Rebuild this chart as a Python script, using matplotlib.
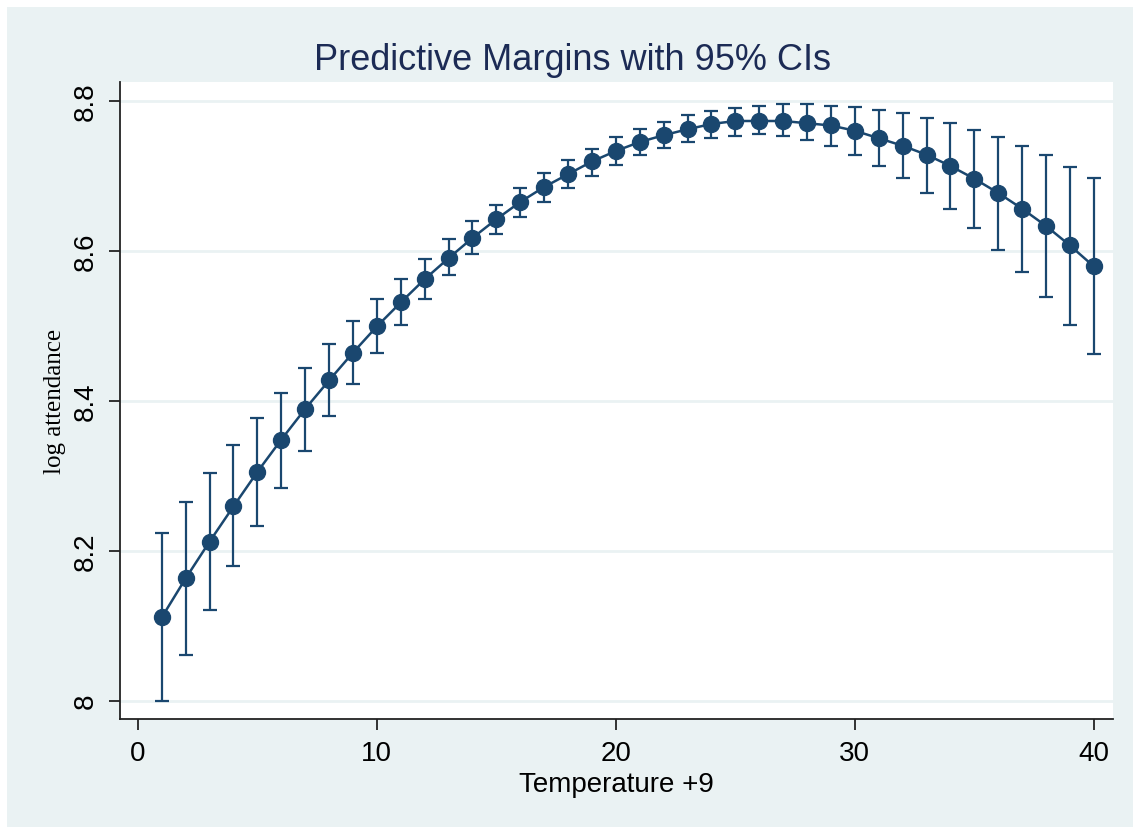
import matplotlib
matplotlib.use("Agg")
import matplotlib.pyplot as plt
from matplotlib.patches import Rectangle

# ---- data ----
temp = list(range(1, 41))
margin = [8.111, 8.163, 8.212, 8.259, 8.305, 8.348, 8.389, 8.427, 8.464, 8.499,
          8.531, 8.562, 8.590, 8.617, 8.642, 8.665, 8.685, 8.702, 8.719, 8.733,
          8.745, 8.754, 8.762, 8.769, 8.773, 8.773, 8.773, 8.770, 8.767, 8.760,
          8.750, 8.740, 8.728, 8.713, 8.696, 8.677, 8.656, 8.633, 8.607, 8.579]
ci_hi = [8.224, 8.265, 8.304, 8.341, 8.377, 8.410, 8.444, 8.476, 8.506, 8.535,
         8.562, 8.589, 8.615, 8.639, 8.661, 8.683, 8.703, 8.721, 8.736, 8.751,
         8.762, 8.772, 8.781, 8.786, 8.790, 8.793, 8.795, 8.796, 8.793, 8.791,
         8.788, 8.783, 8.777, 8.770, 8.761, 8.751, 8.739, 8.727, 8.712, 8.697]
ci_lo = [7.999, 8.061, 8.121, 8.179, 8.233, 8.284, 8.333, 8.379, 8.422, 8.463,
         8.501, 8.536, 8.567, 8.596, 8.622, 8.645, 8.665, 8.684, 8.700, 8.714,
         8.727, 8.737, 8.745, 8.750, 8.753, 8.755, 8.753, 8.747, 8.739, 8.728,
         8.713, 8.697, 8.677, 8.655, 8.630, 8.601, 8.571, 8.538, 8.501, 8.462]
xticks = [0, 10, 20, 30, 40]
yticks = [8.0, 8.2, 8.4, 8.6, 8.8]
ytick_labels = ["8", "8.2", "8.4", "8.6", "8.8"]

NAVY = "#1a476f"
BG = "#eaf2f3"
INK = "#222222"

W, H = 1133, 828
fig = plt.figure(figsize=(W / 100, H / 100), dpi=100, facecolor="white")
# stata-ish graph region
fig.patches.append(Rectangle((7 / W, 0), 1 - 7 / W, 1 - 8 / H,
                             transform=fig.transFigure, facecolor=BG,
                             edgecolor="none", zorder=-10))

ax = fig.add_axes([120 / W, 1 - 720 / H, (1113 - 120) / W, (720 - 83) / H])
ax.set_facecolor("white")

err = [[m - lo for m, lo in zip(margin, ci_lo)],
       [hi - m for m, hi in zip(margin, ci_hi)]]
ax.errorbar(temp, margin, yerr=err, fmt="-o", color=NAVY, ms=11.5, lw=1.8,
            elinewidth=1.6, capsize=5.3, capthick=1.6, zorder=3)

ax.set_xlim(-0.745, 40.8)
ax.set_ylim(7.9756, 8.825)
ax.set_xticks(xticks)
ax.set_yticks(yticks)
ax.set_yticklabels(ytick_labels)
ax.grid(axis="y", color=BG, lw=2)
ax.set_axisbelow(True)

for s in ["top", "right"]:
    ax.spines[s].set_visible(False)
for s in ["left", "bottom"]:
    ax.spines[s].set_color(INK)
    ax.spines[s].set_linewidth(1.3)

ax.tick_params(direction="out", length=8, width=1.3, color=INK,
               labelsize=20, labelcolor="black")
ax.tick_params(axis="x", pad=7)
ax.tick_params(axis="y", pad=7)
for lab in ax.get_xticklabels() + ax.get_yticklabels():
    lab.set_family("Liberation Sans")
for lab in ax.get_yticklabels():
    lab.set_rotation(90)
    lab.set_va("center")

ax.set_xlabel("Temperature +9", fontsize=20, family="Liberation Sans", labelpad=4)
ax.set_ylabel("log attendance", fontsize=18, family="Liberation Serif", labelpad=5)

fig.text(572 / W, 1 - 61 / H, "Predictive Margins with 95% CIs", fontsize=26,
         family="Liberation Sans", color="#1c2b55", ha="center", va="center")

fig.savefig("out.png", dpi=100, facecolor=fig.get_facecolor())
